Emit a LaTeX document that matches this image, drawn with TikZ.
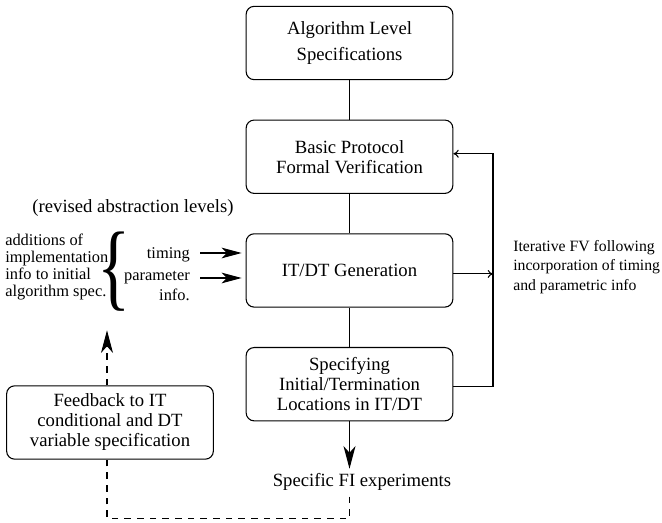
\documentclass[tikz,border=0pt]{standalone}
\usepackage{fontspec}
\setmainfont{Liberation Serif}
\usetikzlibrary{arrows.meta,positioning}
\begin{document}
\begin{tikzpicture}[x=0.75pt,y=-0.75pt,
  stage/.style={draw,rounded corners=6pt,line width=0.8pt,minimum width=155pt,minimum height=55pt,align=center,font=\fontsize{14}{15}\selectfont},
  note/.style={font=\fontsize{12.3}{12.8}\selectfont,inner sep=0pt},
  link/.style={line width=0.8pt},
  bigtip/.style={-{Stealth[length=17pt,width=9pt,inset=5pt]}},
  sidetip/.style={-{Stealth[length=15pt,width=8pt,inset=4pt]}},
  looptip/.style={-{To[length=4pt,width=6pt]}},
  fbline/.style={link,dash pattern=on 5pt off 4.5pt}]
\useasboundingbox (0,0) rectangle (662,523);
% main column
\node[stage] (alg) at (349.5,43) {Algorithm Level\\[4.5pt]Specifications};
\node[stage,below=29.5pt of alg] (bpv) {Basic Protocol\\Formal Verification};
\node[stage,below=29.5pt of bpv] (gen) {IT/DT Generation};
\node[stage,below=29.5pt of gen] (spec) {Specifying\\Initial/Termination\\Locations in IT/DT};
\node[font=\fontsize{14}{15}\selectfont] (fi) at (362,482) {Specific FI experiments};
\draw[link](alg)--(bpv);
\draw[link](bpv)--(gen);
\draw[link](gen)--(spec);
\draw[link,bigtip](spec.south)--(spec.south |- fi.north);
% iteration loop
\coordinate (loop) at (493,0);
\draw[link,looptip]([yshift=-1.9pt]spec.east)--([yshift=-1.9pt]spec.east -| loop)|-([yshift=2.25pt]bpv.east);
\draw[link,looptip]([yshift=-2.6pt]gen.east)--([yshift=-2.6pt]gen.east -| loop);
\node[anchor=west,align=left,inner sep=0pt,font=\fontsize{11.8}{14.5}\selectfont] (iter) at (513,267) {Iterative FV following\\incorporation of timing\\and parametric info};
% abstraction levels
\node[font=\fontsize{14}{15}\selectfont] (rev) at (133,208) {(revised abstraction levels)};
\node[note,anchor=west,align=left] (add) at (5,267) {additions of\\implementation\\info to initial\\algorithm spec.};
\node[inner sep=0pt,xscale=0.72,font=\fontsize{72}{72}\selectfont] (brace) at (114,272) {\{};
\node[note,anchor=east] (tim) at (190,255) {timing};
\node[note,anchor=east] (par) at (190,278) {parameter};
\node[note,anchor=east] (parinf) at (190,295) {info.};
\draw[link,sidetip]([xshift=7.5pt,yshift=1.5pt]tim.east)--([xshift=-3pt,yshift=1.5pt]tim.east -| gen.west);
\draw[link,sidetip]([xshift=7.5pt]par.east)--([xshift=-3pt]par.east -| gen.west);
% feedback
\node[stage] (fb) at (110,422.5) {Feedback to IT\\conditional and DT\\variable specification};
\draw[fbline]([yshift=-1pt]fi.south -| spec.south)--++(0,22)-|([xshift=-2.25pt]fb.south);
\draw[fbline,bigtip]([xshift=-2.25pt]fb.north)--++(0,-55);
\end{tikzpicture}
\end{document}
